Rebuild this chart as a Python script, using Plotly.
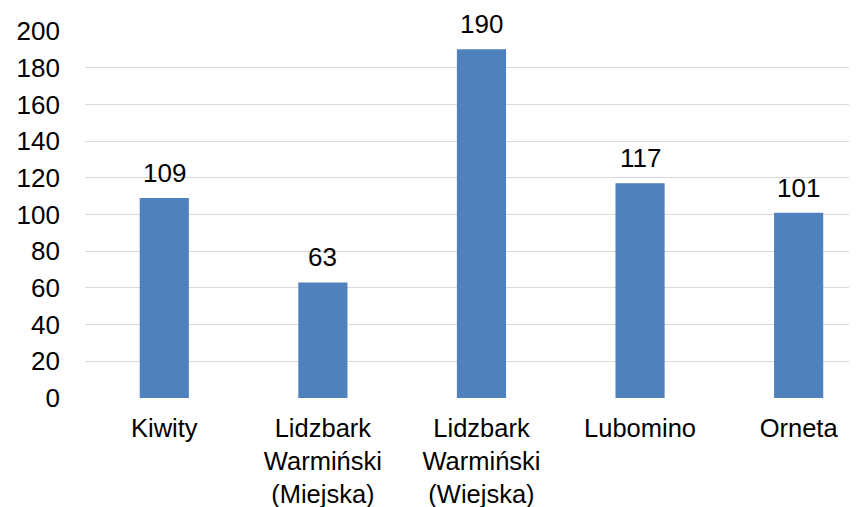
import plotly.graph_objects as go

categories = ["Kiwity", "Lidzbark<br>Warmiński<br>(Miejska)", "Lidzbark<br>Warmiński<br>(Wiejska)", "Lubomino", "Orneta"]
values = [109, 63, 190, 117, 101]
y_ticks = [0, 20, 40, 60, 80, 100, 120, 140, 160, 180, 200]

FONT = "Liberation Sans, Arial, sans-serif"

fig = go.Figure()
fig.add_trace(go.Bar(
    x=list(range(len(categories))),
    y=values,
    width=0.31,
    marker=dict(color="#4F81BD", line=dict(width=0)),
    hoverinfo="skip",
))

for i, v in enumerate(values):
    fig.add_annotation(
        x=i, y=v, text=str(v), showarrow=False,
        yanchor="bottom", yshift=9, borderpad=0,
        font=dict(family=FONT, size=26, color="#000000"),
    )

fig.update_layout(
    width=857, height=507,
    margin=dict(l=77, r=8, t=23, b=116.5),
    paper_bgcolor="white", plot_bgcolor="white",
    showlegend=False,
    font=dict(family=FONT, size=26, color="#000000"),
    xaxis=dict(
        range=[-0.5, 4.368],
        tickmode="array",
        tickvals=list(range(len(categories))),
        ticktext=categories,
        showgrid=False, zeroline=False, showline=False,
        ticks="", ticklabelstandoff=12, automargin=False,
        tickfont=dict(family=FONT, size=25.5, color="#000000"),
    ),
    yaxis=dict(
        range=[0, 200],
        tickmode="array",
        tickvals=y_ticks,
        showgrid=True, gridcolor="#D9D9D9", gridwidth=1.3,
        zeroline=False, showline=False,
        ticks="", ticklabelstandoff=24, automargin=False,
        tickfont=dict(family=FONT, size=26, color="#000000"),
    ),
)

fig.write_html("out.html")
